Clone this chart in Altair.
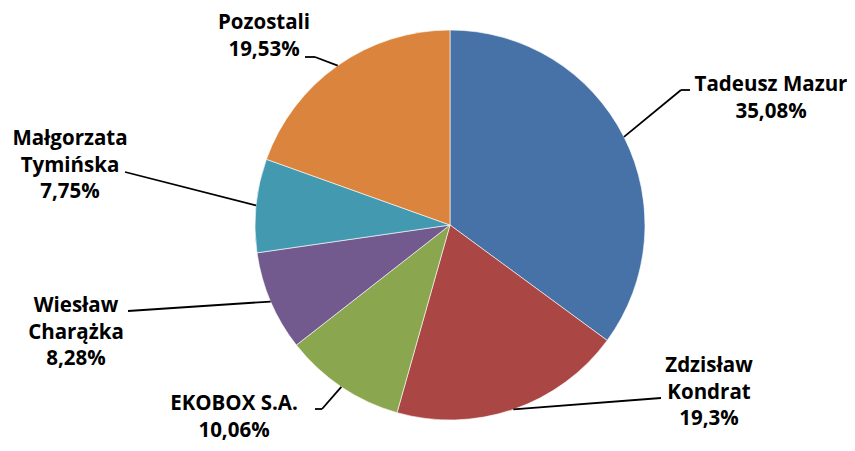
import altair as alt
import pandas as pd

# ---- data ----
names = ["Tadeusz Mazur", "Zdzisław Kondrat", "EKOBOX S.A.", "Wiesław Charążka",
         "Małgorzata Tymińska", "Pozostali"]
shares = [35.08, 19.3, 10.06, 8.28, 7.75, 19.53]
label_texts = ["Tadeusz Mazur\n35,08%", "Zdzisław\nKondrat\n19,3%", "EKOBOX S.A.\n10,06%",
               "Wiesław\nCharążka\n8,28%", "Małgorzata\nTymińska\n7,75%", "Pozostali\n19,53%"]
colors = ["#4672A8", "#AA4744", "#8AA64F", "#725A8F", "#4399B0", "#DB843D"]

# ---- layout (chart pixel coords) ----
CX, CY, R = 442, 217, 195
label_x = [763, 701, 226, 68, 62, 256]
label_y = [83, 364, 402, 304, 137, 21]
elbow_x = [673, 653, 314, 120, 117, 307]
elbow_y = [82, 390, 401, 303, 164, 49]
end_x = [682, 653, 307, 120, 117, 297]
end_y = [82, 390, 401, 303, 164, 49]

df = pd.DataFrame({
    "name": names, "share": shares, "k": list(range(len(names))),
    "label": label_texts,
    "lx": label_x, "ly": label_y,
    "bx": elbow_x, "by": elbow_y, "ex2": end_x, "ey2": end_y,
})

base = alt.Chart(df)

pie = base.mark_arc(radius=R, stroke="#ffffff", strokeWidth=0.6).encode(
    theta=alt.Theta("share:Q", stack=True),
    order=alt.Order("k:Q", sort="ascending"),
    color=alt.Color("name:N", scale=alt.Scale(domain=names, range=colors), legend=None),
    x=alt.value(CX), y=alt.value(CY),
)

leader_base = base.transform_window(
    cum="sum(share)", sort=[alt.SortField("k")], frame=[None, 0]
).transform_joinaggregate(total="sum(share)").transform_calculate(
    mid="(datum.cum - datum.share / 2) / datum.total * 2 * PI",
).transform_calculate(
    px=f"{CX} + {R} * sin(datum.mid)",
    py=f"{CY} - {R} * cos(datum.mid)",
)

seg1 = leader_base.mark_rule(color="#000000", strokeWidth=1.8).encode(
    x=alt.X("px:Q", scale=None), y=alt.Y("py:Q", scale=None),
    x2="bx:Q", y2="by:Q",
)
seg2 = base.mark_rule(color="#000000", strokeWidth=1.8).encode(
    x=alt.X("bx:Q", scale=None), y=alt.Y("by:Q", scale=None),
    x2="ex2:Q", y2="ey2:Q",
)

labels = base.mark_text(
    font="Open Sans", fontSize=20.5, fontWeight="bold", color="#000000",
    align="center", baseline="alphabetic", lineBreak="\n", lineHeight=26.5,
).encode(
    x=alt.X("lx:Q", scale=None), y=alt.Y("ly:Q", scale=None),
    text="label:N",
)

chart = alt.layer(pie, seg1, seg2, labels).properties(
    width=839, height=435, padding=0, autosize=alt.AutoSizeParams(type="none"),
).configure_view(stroke=None)

chart.save("out.html", embed_options={"renderer": "svg", "actions": False})
